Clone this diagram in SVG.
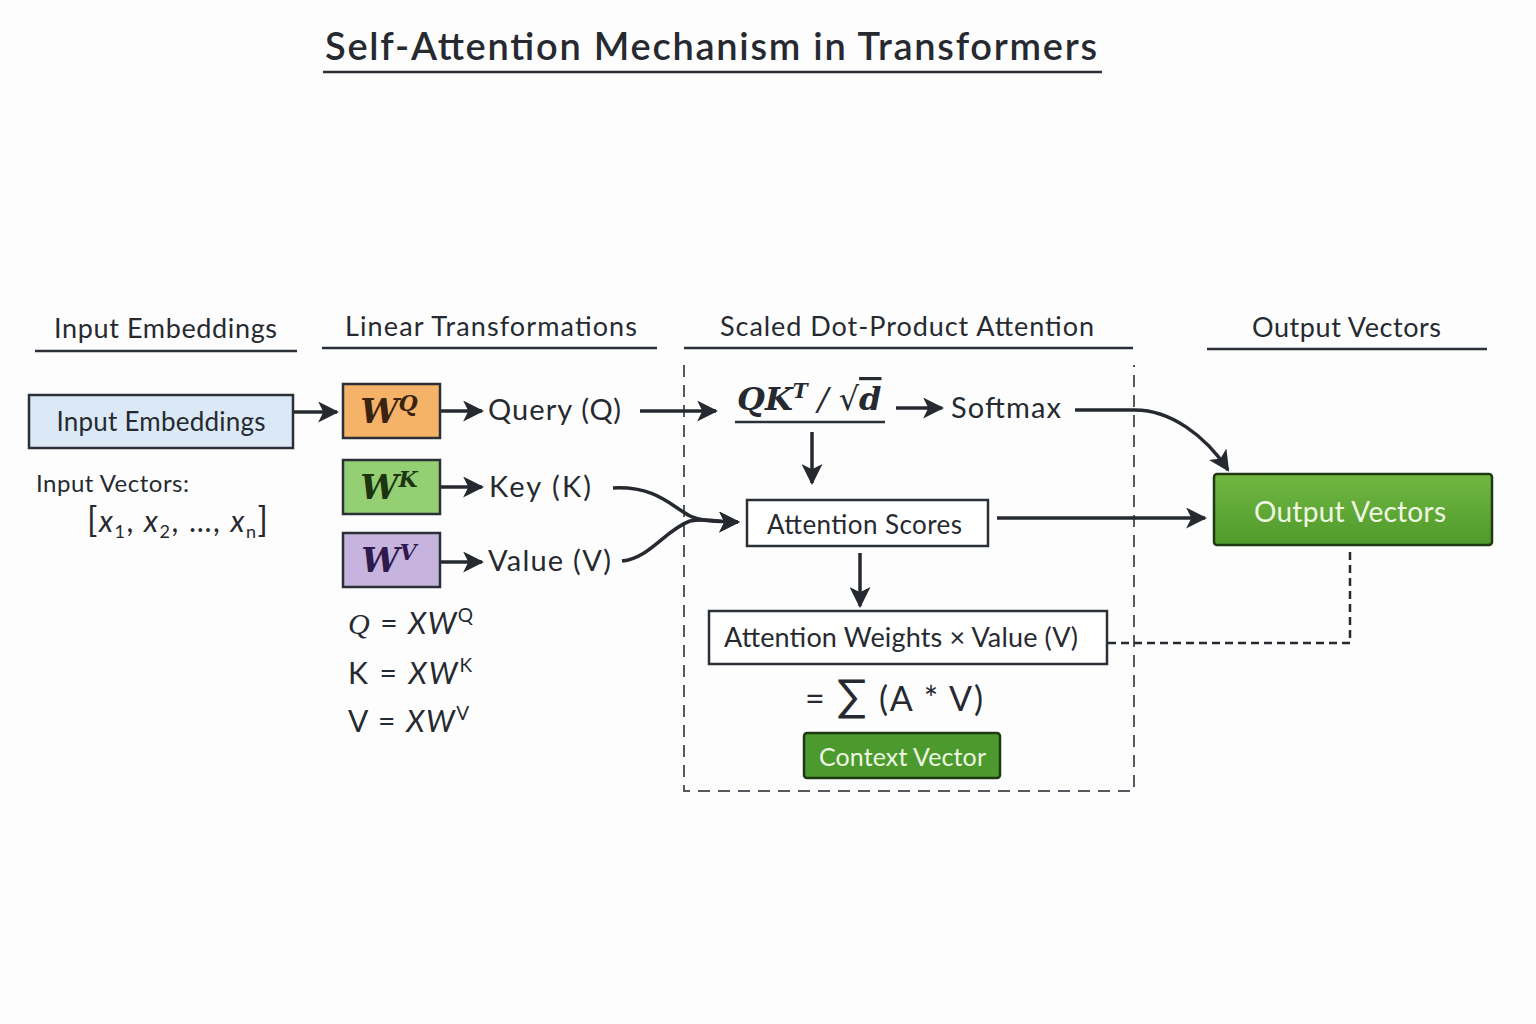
<svg xmlns="http://www.w3.org/2000/svg" width="1536" height="1024" viewBox="0 0 1536 1024">
<defs>
<marker id="ah" viewBox="0 0 10 10" refX="9" refY="5" markerWidth="6" markerHeight="6" orient="auto" markerUnits="strokeWidth"><path d="M0,0 L10,5 L0,10 L2.5,5 Z" fill="#262a30"/></marker>
<linearGradient id="gOut" x1="0" y1="0" x2="0" y2="1"><stop offset="0" stop-color="#72b842"/><stop offset="1" stop-color="#4f9a2c"/></linearGradient>
<style>
text{font-family:"Lato","Open Sans","Liberation Sans",sans-serif;fill:#262a30}
.title{font-size:38px;font-weight:600}
.hdr{font-size:27px}
.lbl{font-size:29px}
.box{stroke:#2b3038;stroke-width:2.5}
.conn{fill:none;stroke:#262a30;stroke-width:3.5;marker-end:url(#ah)}
.rule{stroke:#2b3038;stroke-width:2.5;fill:none}
.w{font-family:"DejaVu Serif","Liberation Serif",serif;font-weight:bold;font-style:italic;font-size:34px}
.math{font-family:"Liberation Serif","DejaVu Serif",serif;font-style:italic}
.it{font-style:italic}
</style>
</defs>
<rect width="1536" height="1024" fill="#fdfdfd"/>

<g id="title">
<text class="title" x="325" y="60" textLength="772">Self-Attention Mechanism in Transformers</text>
<line class="rule" x1="323" y1="72" x2="1102" y2="72" stroke-width="3"/>
</g>

<g id="headers">
<text class="hdr" x="54" y="338" textLength="223">Input Embeddings</text>
<line class="rule" x1="35" y1="351" x2="297" y2="351"/>
<text class="hdr" x="345" y="336" textLength="292">Linear Transformations</text>
<line class="rule" x1="322" y1="348" x2="657" y2="348"/>
<text class="hdr" x="720" y="336" textLength="374">Scaled Dot-Product Attention</text>
<line class="rule" x1="684" y1="348" x2="1133" y2="348"/>
<text class="hdr" x="1252" y="337" textLength="189">Output Vectors</text>
<line class="rule" x1="1207" y1="349" x2="1487" y2="349"/>
</g>

<g id="attention-frame">
<path d="M684,365 V791 H1134 V365" fill="none" stroke="#55595f" stroke-width="2" stroke-dasharray="12,8"/>
</g>

<g id="input-embeddings">
<rect class="box" x="29" y="395" width="264" height="53" fill="#dbe9f7"/>
<text x="161" y="431" text-anchor="middle" font-size="26" textLength="209">Input Embeddings</text>
</g>
<g id="input-vectors">
<text x="36" y="492" font-size="24" textLength="153">Input Vectors:</text>
<text x="87" y="532" font-size="30" textLength="181"><tspan font-size="34">[</tspan><tspan class="it">x</tspan><tspan font-size="18" dy="6">1</tspan><tspan dy="-6">, </tspan><tspan class="it">x</tspan><tspan font-size="18" dy="6">2</tspan><tspan dy="-6">, …, </tspan><tspan class="it">x</tspan><tspan font-size="18" dy="6">n</tspan><tspan dy="-6" font-size="34">]</tspan></text>
</g>

<g id="wq">
<rect class="box" x="343" y="384" width="97" height="54" fill="#f5b269"/>
<text class="w" x="389" y="423" text-anchor="middle" style="fill:#3a2410">W<tspan font-size="22" dy="-12">Q</tspan></text>
</g>
<g id="wk">
<rect class="box" x="343" y="460" width="97" height="54" fill="#94cf73"/>
<text class="w" x="389" y="499" text-anchor="middle" style="fill:#1c3410">W<tspan font-size="22" dy="-12">K</tspan></text>
</g>
<g id="wv">
<rect class="box" x="343" y="533" width="97" height="54" fill="#c6b4de"/>
<text class="w" x="389" y="572" text-anchor="middle" style="fill:#2e1a4d">W<tspan font-size="22" dy="-12">V</tspan></text>
</g>

<g id="query"><text class="lbl" x="488" y="420" textLength="133">Query (Q)</text></g>
<g id="key"><text class="lbl" x="489" y="497" textLength="102">Key (K)</text></g>
<g id="value"><text class="lbl" x="488" y="571" textLength="123">Value (V)</text></g>

<g id="formulas">
<text x="348" y="634" font-size="30" textLength="125"><tspan class="math">Q</tspan> = <tspan class="it">XW</tspan><tspan font-size="19" dy="-12">Q</tspan></text>
<text x="348" y="684" font-size="30" textLength="124">K = <tspan class="it">XW</tspan><tspan font-size="19" dy="-12">K</tspan></text>
<text x="348" y="732" font-size="30" textLength="121">V = <tspan class="it">XW</tspan><tspan font-size="19" dy="-12">V</tspan></text>
</g>

<g id="scaled-score">
<text x="737" y="410" font-weight="bold" font-style="italic" font-size="32" style="font-family:'DejaVu Serif','Liberation Serif',serif">QK<tspan font-size="20" dy="-12">T</tspan><tspan dy="12" font-weight="normal"> / √</tspan><tspan text-decoration="overline">d</tspan></text>
<line class="rule" x1="735" y1="422" x2="885" y2="422"/>
</g>
<g id="softmax"><text class="lbl" x="951" y="418" textLength="110">Softmax</text></g>

<g id="attention-scores">
<rect class="box" x="747" y="500" width="241" height="46" fill="#ffffff"/>
<text x="767" y="534" font-size="26" textLength="195">Attention Scores</text>
</g>

<g id="weights-value">
<rect class="box" x="709" y="611" width="398" height="53" fill="#ffffff"/>
<text x="724" y="647" font-size="27" textLength="354">Attention Weights × Value (V)</text>
</g>

<g id="sum-formula">
<text x="805" y="711" font-size="34" textLength="178">= <tspan font-size="44">∑</tspan> (A * V)</text>
</g>

<g id="context-vector">
<rect x="804" y="733" width="196" height="45" rx="3" fill="#4c9a2d" stroke="#1f3a12" stroke-width="2.5"/>
<text x="819" y="766" font-size="25" textLength="167" style="fill:#eef6e2">Context Vector</text>
</g>

<g id="output-vectors">
<rect x="1214" y="474" width="278" height="71" rx="3" fill="url(#gOut)" stroke="#1f3a12" stroke-width="2.5"/>
<text x="1254" y="522" font-size="28" textLength="192" style="fill:#f0f7e2">Output Vectors</text>
</g>

<g id="connectors">
<line class="conn" x1="294" y1="412" x2="337" y2="412"/>
<line class="conn" x1="441" y1="411" x2="482" y2="411"/>
<line class="conn" x1="441" y1="487" x2="482" y2="487"/>
<line class="conn" x1="441" y1="562" x2="482" y2="562"/>
<line class="conn" x1="640" y1="411" x2="716" y2="411"/>
<path class="conn" d="M613,488 C655,486 670,505 690,516 C700,521 715,522 738,522"/>
<path class="conn" d="M622,561 C650,558 665,530 690,521 C705,518 720,522 738,522"/>
<line class="conn" x1="896" y1="408" x2="942" y2="408"/>
<line class="conn" x1="812" y1="432" x2="812" y2="483"/>
<path class="conn" d="M1075,410 H1135 C1170,410 1205,435 1228,470"/>
<line class="conn" x1="997" y1="518" x2="1205" y2="518"/>
<line class="conn" x1="860" y1="553" x2="860" y2="606"/>
<path d="M1108,643 H1350 V547" fill="none" stroke="#262a30" stroke-width="2.5" stroke-dasharray="8,5"/>
</g>
</svg>
